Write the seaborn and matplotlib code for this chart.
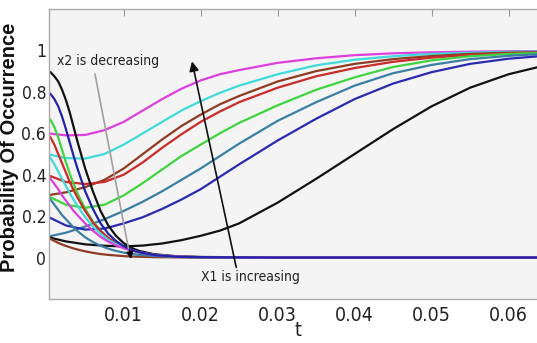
import matplotlib
matplotlib.use("Agg")
import matplotlib.pyplot as plt
import seaborn as sns
import pandas as pd
from matplotlib import font_manager

# time grids
t_rise = [0, 0.0025, 0.005, 0.0075, 0.010, 0.0125, 0.015, 0.0175, 0.020, 0.0225,
          0.025, 0.030, 0.035, 0.040, 0.045, 0.050, 0.055, 0.060, 0.065]
t_decay = [0, 0.0005, 0.001, 0.0015, 0.002, 0.0025, 0.003, 0.0035, 0.004, 0.005, 0.006,
           0.007, 0.008, 0.009, 0.010, 0.011, 0.012, 0.014, 0.017, 0.020, 0.030, 0.065]

# rising curves (x1 increasing)
rise_magenta = [0.600, 0.590, 0.592, 0.615, 0.655, 0.71, 0.765, 0.815, 0.855, 0.885, 0.905, 0.94, 0.962, 0.977, 0.986, 0.991, 0.994, 0.996, 0.997]
rise_cyan = [0.500, 0.480, 0.478, 0.50, 0.545, 0.60, 0.655, 0.71, 0.755, 0.795, 0.83, 0.885, 0.928, 0.955, 0.972, 0.983, 0.989, 0.993, 0.995]
rise_brown = [0.30, 0.315, 0.34, 0.375, 0.43, 0.50, 0.57, 0.635, 0.69, 0.74, 0.78, 0.85, 0.90, 0.935, 0.958, 0.973, 0.983, 0.989, 0.992]
rise_red = [0.40, 0.365, 0.355, 0.365, 0.40, 0.46, 0.53, 0.595, 0.655, 0.705, 0.75, 0.82, 0.875, 0.915, 0.945, 0.965, 0.978, 0.986, 0.99]
rise_green = [0.30, 0.255, 0.24, 0.255, 0.30, 0.36, 0.425, 0.49, 0.545, 0.60, 0.65, 0.735, 0.81, 0.87, 0.92, 0.952, 0.972, 0.983, 0.989]
rise_teal = [0.10, 0.12, 0.15, 0.185, 0.225, 0.27, 0.32, 0.375, 0.43, 0.49, 0.55, 0.66, 0.75, 0.83, 0.89, 0.93, 0.958, 0.974, 0.984]
rise_blue = [0.20, 0.155, 0.135, 0.14, 0.165, 0.195, 0.235, 0.28, 0.33, 0.39, 0.45, 0.565, 0.67, 0.765, 0.84, 0.895, 0.935, 0.96, 0.975]
rise_black = [0.10, 0.078, 0.064, 0.057, 0.054, 0.058, 0.068, 0.084, 0.105, 0.13, 0.165, 0.265, 0.38, 0.50, 0.62, 0.73, 0.82, 0.885, 0.93]

# decaying curves (x2 decreasing)
decay_black = [0.90, 0.895, 0.875, 0.85, 0.81, 0.76, 0.70, 0.63, 0.56, 0.43, 0.32, 0.225, 0.155, 0.105, 0.07, 0.047, 0.032, 0.016, 0.006, 0.003, 0.0, 0.0]
decay_navy = [0.80, 0.79, 0.765, 0.73, 0.68, 0.62, 0.555, 0.49, 0.43, 0.32, 0.235, 0.165, 0.115, 0.08, 0.055, 0.038, 0.026, 0.012, 0.004, 0.002, 0.0, 0.0]
decay_green = [0.68, 0.665, 0.63, 0.58, 0.52, 0.46, 0.405, 0.355, 0.31, 0.235, 0.175, 0.13, 0.095, 0.068, 0.05, 0.035, 0.025, 0.012, 0.004, 0.002, 0.0, 0.0]
decay_red = [0.60, 0.58, 0.545, 0.50, 0.455, 0.41, 0.365, 0.325, 0.29, 0.225, 0.17, 0.128, 0.095, 0.07, 0.05, 0.036, 0.026, 0.012, 0.004, 0.002, 0.0, 0.0]
decay_cyan = [0.50, 0.48, 0.45, 0.415, 0.38, 0.345, 0.31, 0.28, 0.25, 0.195, 0.15, 0.115, 0.086, 0.065, 0.048, 0.035, 0.025, 0.012, 0.004, 0.002, 0.0, 0.0]
decay_magenta = [0.40, 0.38, 0.355, 0.33, 0.30, 0.275, 0.25, 0.225, 0.205, 0.165, 0.13, 0.10, 0.077, 0.059, 0.045, 0.034, 0.025, 0.012, 0.005, 0.002, 0.0, 0.0]
decay_teal = [0.30, 0.28, 0.255, 0.23, 0.205, 0.185, 0.165, 0.145, 0.128, 0.098, 0.075, 0.057, 0.043, 0.032, 0.024, 0.018, 0.013, 0.007, 0.003, 0.001, 0.0, 0.0]
decay_brown = [0.10, 0.09, 0.08, 0.071, 0.063, 0.056, 0.05, 0.044, 0.039, 0.03, 0.023, 0.017, 0.013, 0.01, 0.007, 0.005, 0.004, 0.002, 0.001, 0.0, 0.0, 0.0]

x_ticks = [0.01, 0.02, 0.03, 0.04, 0.05, 0.06]
x_labels = ["0.01", "0.02", "0.03", "0.04", "0.05", "0.06"]
y_ticks = [0, 0.2, 0.4, 0.6, 0.8, 1]
y_labels = ["0", "0.2", "0.4", "0.6", "0.8", "1"]

colors = {
    "black": "#111111", "navy": "#2222a8", "green": "#3fd43f", "red": "#cc2a2a",
    "cyan": "#3fdada", "magenta": "#dd3fdd", "teal": "#3a7fa3", "brown": "#8f3b22",
    "blue": "#2a2ab0",
}

rising = [("magenta", rise_magenta), ("cyan", rise_cyan), ("brown", rise_brown),
          ("red", rise_red), ("green", rise_green), ("teal", rise_teal),
          ("blue", rise_blue), ("black", rise_black)]
decaying = [("black", decay_black), ("brown", decay_brown), ("green", decay_green),
            ("red", decay_red), ("cyan", decay_cyan), ("teal", decay_teal),
            ("magenta", decay_magenta), ("navy", decay_navy)]

rows = []
palette = {}
for name, vals in rising:
    key = "rise_" + name
    palette[key] = colors[name]
    rows += [(key, t, v) for t, v in zip(t_rise, vals)]
for name, vals in decaying:
    key = "decay_" + name
    palette[key] = colors[name]
    rows += [(key, t, v) for t, v in zip(t_decay, vals)]
df = pd.DataFrame(rows, columns=["curve", "t", "p"])

sns.set_style("white")
plt.rcParams["font.family"] = ["Liberation Sans", "DejaVu Sans"]

# look for an upright narrow face for the horizontal texts (the original is squeezed)
narrow = None
for f in font_manager.fontManager.ttflist:
    st = str(f.stretch).lower()
    nm = f.name.lower()
    if ("narrow" in nm or "condensed" in nm or "condensed" in st) \
            and f.style == "normal" and f.weight in ("normal", 400, "regular", "book"):
        narrow = font_manager.FontProperties(fname=f.fname)
        break
if narrow is not None:
    ytick_font = narrow.copy()
    ytick_font.set_size(12.5)
    xtick_font = narrow.copy()
    xtick_font.set_size(14)
    note_font = narrow.copy()
    note_font.set_size(10)
else:
    ytick_font = font_manager.FontProperties(family="Liberation Sans", size=12)
    xtick_font = font_manager.FontProperties(family="Liberation Sans", size=13)
    note_font = font_manager.FontProperties(family="Liberation Sans", size=9)

fig = plt.figure(figsize=(5.37, 3.43), dpi=100)
ax = fig.add_axes([49 / 537, 1 - 299 / 343, 498 / 537, 290 / 343])
ax.set_facecolor("#f4f4f4")

sns.lineplot(data=df, x="t", y="p", hue="curve", palette=palette, units="curve",
             estimator=None, sort=False, legend=False, linewidth=1.6, ax=ax)

ax.set_xlim(0.0003, 0.065)
ax.set_ylim(-0.2, 1.2)
ax.set_xticks(x_ticks)
ax.set_xticklabels(x_labels, fontproperties=xtick_font)
ax.set_yticks(y_ticks)
ax.set_yticklabels(y_labels, fontproperties=ytick_font)
ax.tick_params(direction="in", length=5, color="#999999",
               labelcolor="#222222", top=True, pad=2)
ax.tick_params(axis="x", pad=5)
for s in ax.spines.values():
    s.set_color("#aaaaaa")
    s.set_linewidth(1.0)
ax.set_xlabel("t", fontproperties=xtick_font, labelpad=-3, color="#222222")
ax.set_ylabel("")
fig.text(9.5 / 537, 1 - 147 / 343, "Probability Of Occurrence", rotation=90,
         ha="center", va="center", fontsize=14.5, fontweight="bold",
         family="Liberation Sans", color="#111111")

# annotations
ax.text(0.0013, 0.947, "x2 is decreasing", fontproperties=note_font, va="center", ha="left", color="#222222")
ax.annotate("", xy=(0.0107, 0.03), xytext=(0.0062, 0.90),
            arrowprops=dict(arrowstyle="-", color="#a0a0a0", lw=1.2))
ax.annotate("", xy=(0.011, -0.02), xytext=(0.0107, 0.05),
            arrowprops=dict(arrowstyle="-|>", color="black", lw=1, mutation_scale=10))
ax.annotate("", xy=(0.0188, 0.96), xytext=(0.0247, -0.06),
            arrowprops=dict(arrowstyle="-|>", color="#111111", lw=1.2, mutation_scale=14))
ax.text(0.0201, -0.095, "X1 is increasing", fontproperties=note_font, va="center", ha="left", color="#222222")

fig.savefig("out.png", dpi=100)
